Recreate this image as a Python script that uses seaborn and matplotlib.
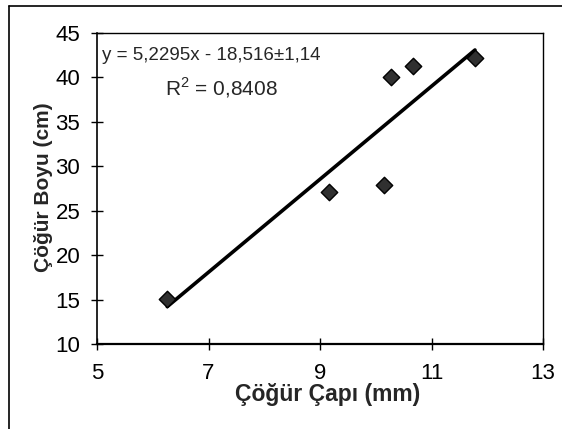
import matplotlib
matplotlib.use("Agg")
import matplotlib.pyplot as plt
import seaborn as sns
import pandas as pd
from matplotlib.lines import Line2D

# Data
capi = [6.26, 9.16, 10.15, 10.27, 10.67, 11.78]   # Çöğür Çapı (mm)
boyu = [15.1, 27.1, 27.9, 40.1, 41.3, 42.2]       # Çöğür Boyu (cm)
x_ticks = [5, 7, 9, 11, 13]
y_ticks = [10, 15, 20, 25, 30, 35, 40, 45]
equation = "y = 5,2295x - 18,516±1,14"
r2_text = "R$^2$ = 0,8408"

sns.set_style("white")
plt.rcParams["font.family"] = ["Liberation Sans", "DejaVu Sans"]
plt.rcParams["mathtext.fontset"] = "custom"
plt.rcParams["mathtext.rm"] = "Liberation Sans"

fig = plt.figure(figsize=(5.62, 4.29), dpi=100)
ax = fig.add_axes([97 / 562, 1 - 344 / 429, (543 - 97) / 562, (344 - 33) / 429])

df = pd.DataFrame({"capi": capi, "boyu": boyu})
sns.regplot(data=df, x="capi", y="boyu", ci=None, ax=ax, marker="D",
            scatter_kws=dict(s=70, color="#303030",
                             edgecolors="black", linewidths=1.0, zorder=3, alpha=1),
            line_kws=dict(color="black", lw=2.6, zorder=2))

ax.set_xlim(5, 13)
ax.set_ylim(10, 45)
ax.set_xticks(x_ticks)
ax.set_yticks(y_ticks)
ax.set_xticklabels([str(v) for v in x_ticks])
ax.set_yticklabels([str(v) for v in y_ticks])
ax.tick_params(axis="both", which="both", bottom=True, left=True,
               direction="inout", length=8, width=1, color="black",
               labelsize=16, labelcolor="black")
ax.tick_params(axis="x", pad=10)
ax.tick_params(axis="y", pad=8)

for s in ax.spines.values():
    s.set_color("black")
    s.set_linewidth(1.0)
ax.spines["bottom"].set_linewidth(1.6)
ax.spines["left"].set_linewidth(1.2)

ax.set_xlabel("Çöğür Çapı (mm)", fontsize=16.5, fontweight="bold")
ax.set_ylabel("Çöğür Boyu (cm)", fontsize=15, fontweight="bold")
ax.xaxis.label.set_va("center")
ax.yaxis.label.set_va("center")
ax.xaxis.set_label_coords(0.518, -0.161)
ax.yaxis.set_label_coords(-0.121, 0.505)

ax.text(5.09, 42.5, equation, fontsize=13.5, ha="left", va="center")
ax.text(7.23, 38.8, r2_text, fontsize=15, ha="center", va="center")

# outer chart-area border (left and top)
fig.add_artist(Line2D([9 / 562, 9 / 562], [0, 1 - 6 / 429], color="black", lw=1.2,
                      transform=fig.transFigure))
fig.add_artist(Line2D([9 / 562, 1], [1 - 6 / 429, 1 - 6 / 429], color="black", lw=1.2,
                      transform=fig.transFigure))

fig.savefig("out.png", dpi=100)
